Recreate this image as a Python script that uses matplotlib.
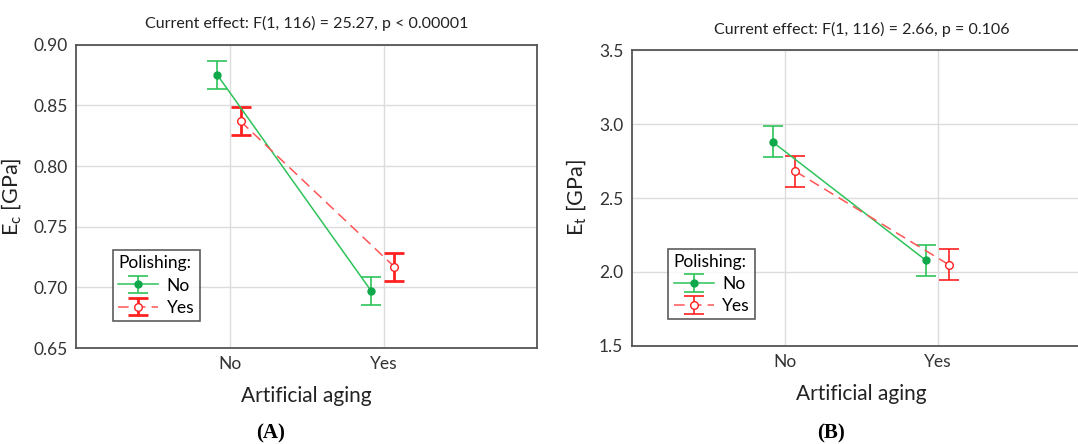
import matplotlib
matplotlib.use("Agg")
import matplotlib.pyplot as plt

plt.rcParams['font.family'] = ['Lato', 'DejaVu Sans']

# данные
aging = ["No", "Yes"]
ec_no = [0.875, 0.697]
ec_yes = [0.837, 0.717]
ec_err = [0.0115, 0.0115]
et_no = [2.88, 2.08]
et_yes = [2.68, 2.05]
et_err = [0.105, 0.105]

titles = ["Current effect: F(1, 116) = 25.27, p < 0.00001",
          "Current effect: F(1, 116) = 2.66, p = 0.106"]
ylabels = ["E$_\\mathregular{c}$ [GPa]", "E$_\\mathregular{t}$ [GPa]"]
panel_names = ["(A)", "(B)"]

green = "#2ec35a"
green_dark = "#0fa84a"
red = "#ff2020"

fig = plt.figure(figsize=(10.78, 4.44), dpi=100)
ax1 = fig.add_axes([0.0705, 0.216, 0.428, 0.683])
ax2 = fig.add_axes([0.586, 0.221, 0.426, 0.666])

setups = [
    (ax1, ec_no, ec_yes, ec_err, (0.65, 0.90), [0.65, 0.70, 0.75, 0.80, 0.85, 0.90], "%.2f", 2.0),
    (ax2, et_no, et_yes, et_err, (1.5, 3.5), [1.5, 2.0, 2.5, 3.0, 3.5], "%.1f", 1.2),
]

for i, (ax, no, yes, err, ylim, yt, fmt, red_lw) in enumerate(setups):
    x = list(range(len(aging)))
    ax.errorbar([v - 0.08 for v in x], no, yerr=err, color=green, lw=1.1,
                marker="o", ms=5, mfc=green_dark, mec=green_dark,
                capsize=7, capthick=1.2, elinewidth=1.2, label="No", zorder=3)
    ax.errorbar([v + 0.07 for v in x], yes, yerr=err, color="#ff5555", lw=1.1,
                ls=(0, (7, 4)), marker="o", ms=5.5, mfc="white", mec=red,
                ecolor=red, capsize=7, capthick=red_lw, elinewidth=red_lw,
                label="Yes", zorder=3)
    ax.set_xlim(-1, 2)
    ax.set_ylim(*ylim)
    ax.set_xticks(x)
    ax.set_xticklabels(aging, fontsize=12.5, color="#333333")
    ax.set_yticks(yt)
    ax.set_yticklabels([fmt % v for v in yt], fontsize=12.5, color="#333333")
    ax.tick_params(length=0, pad=6)
    ax.grid(True, color="#dcdcdc", lw=1)
    ax.set_axisbelow(True)
    for s in ax.spines.values():
        s.set_color("#555555")
        s.set_linewidth(1.3)
    ax.set_xlabel("Artificial aging", fontsize=15, color="#222222", labelpad=10)
    ax.set_ylabel(ylabels[i], fontsize=15.5, color="#222222", labelpad=7)
    ax.set_title(titles[i], fontsize=11.5, color="#222222", pad=12)
    leg = ax.legend(title="Polishing:", loc="lower left",
                    bbox_to_anchor=(0.08, 0.09), fontsize=12.5,
                    title_fontsize=12.5, frameon=True, fancybox=False,
                    handlelength=2.3, handletextpad=0.5, borderpad=0.3,
                    labelspacing=0.35, borderaxespad=0)
    leg.get_frame().set_edgecolor("#333333")
    leg.get_frame().set_linewidth(1.2)
    leg._legend_box.align = "left"

fig.text(0.251, 0.012, panel_names[0], fontsize=15, fontweight="bold",
         family="Liberation Serif", ha="center")
fig.text(0.771, 0.012, panel_names[1], fontsize=15, fontweight="bold",
         family="Liberation Serif", ha="center")

fig.savefig("out.png", dpi=100)
